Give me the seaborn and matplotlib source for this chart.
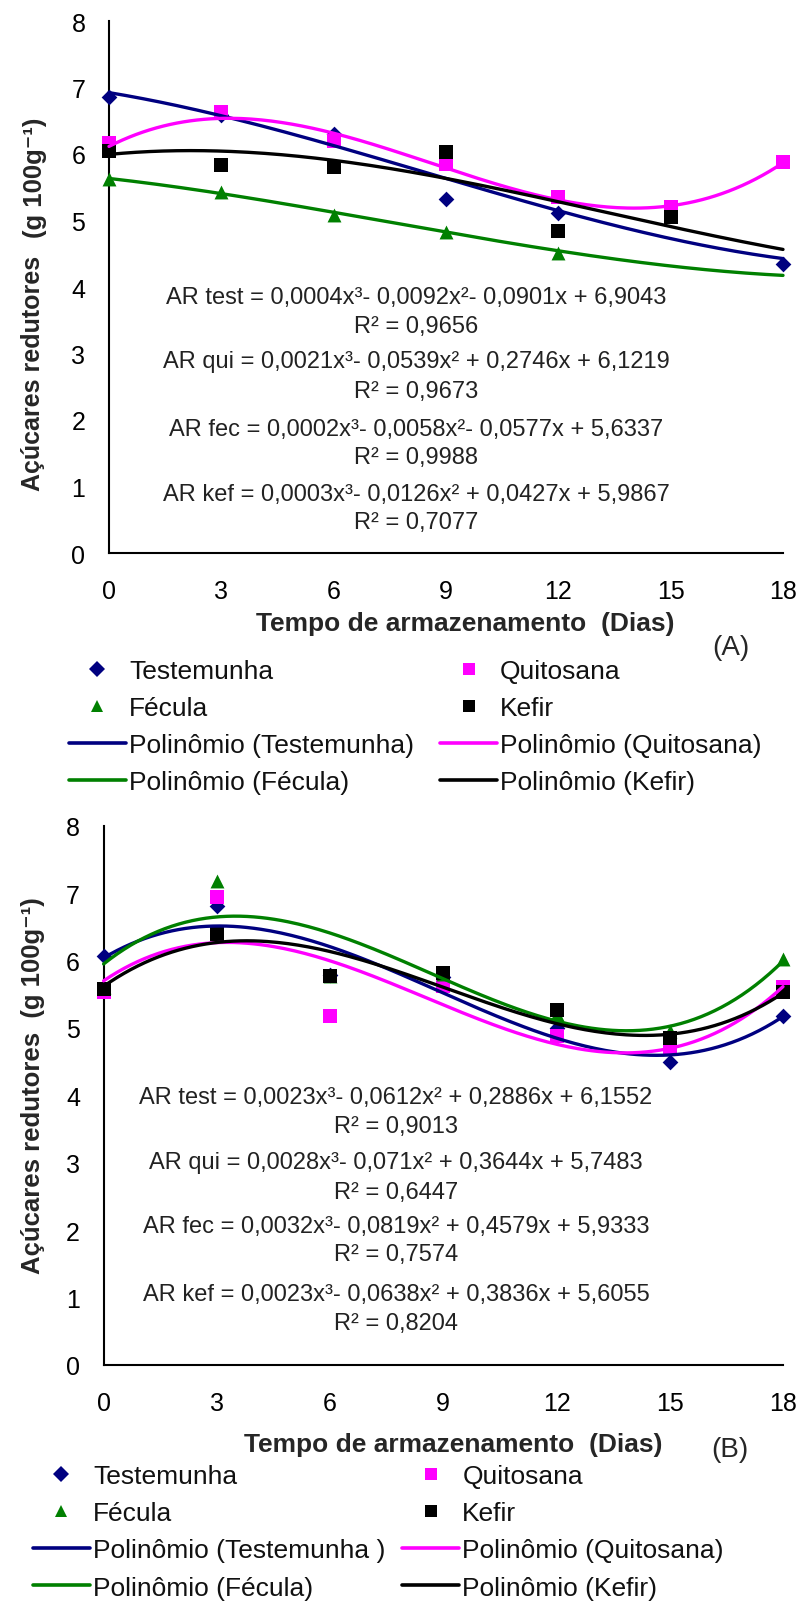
import numpy as np
import matplotlib
matplotlib.use("Agg")
import matplotlib.pyplot as plt
from matplotlib.lines import Line2D
import seaborn as sns

sns.set_theme(style="white")
plt.rcParams['font.family'] = ['Liberation Sans', 'DejaVu Sans']

# ---------------- data ----------------
days = [0, 3, 6, 9, 12, 15, 18]
nan = np.nan

# Panel A – observed points
A_test = [6.85, 6.58, 6.30, 5.32, 5.11, nan, 4.35]
A_qui = [6.17, 6.63, 6.20, 5.85, 5.35, 5.20, 5.88]
A_fec = [5.62, 5.43, 5.09, 4.82, 4.51, nan, nan]
A_kef = [6.04, 5.83, 5.80, 6.03, 4.84, 5.05, nan]
# Panel A – trend line values read at each day
A_test_fit = [6.92, 6.58, 6.13, 5.63, 5.13, 4.75, 4.42]
A_qui_fit = [6.12, 6.53, 6.29, 5.82, 5.32, 5.19, 5.88]
A_fec_fit = [5.63, 5.41, 5.12, 4.83, 4.53, 4.33, 4.17]
A_kef_fit = [6.00, 6.03, 5.90, 5.66, 5.27, 4.90, 4.57]

# Panel B – observed points
B_test = [6.07, 6.81, 5.78, 5.75, 5.00, 4.49, 5.18]
B_qui = [5.53, 6.94, 5.18, 5.62, 4.88, 4.69, 5.60]
B_fec = [5.60, 7.18, 5.77, 5.80, 5.20, 4.96, 6.02]
B_kef = [5.58, 6.40, 5.77, 5.82, 5.26, 4.85, 5.53]
# Panel B – trend line values read at each day
B_test_fit = [6.04, 6.52, 6.17, 5.55, 4.86, 4.57, 5.18]
B_qui_fit = [5.72, 6.24, 5.92, 5.47, 4.76, 4.61, 5.65]
B_fec_fit = [5.95, 6.67, 6.32, 5.82, 5.10, 4.98, 6.01]
B_kef_fit = [5.62, 6.28, 6.07, 5.68, 5.05, 4.88, 5.53]

series_names = ["Testemunha", "Quitosana", "Fécula", "Kefir"]

A_eqs = ["AR test = 0,0004x³- 0,0092x²- 0,0901x + 6,9043",
         "AR qui = 0,0021x³- 0,0539x² + 0,2746x + 6,1219",
         "AR fec = 0,0002x³- 0,0058x²- 0,0577x + 5,6337",
         "AR kef = 0,0003x³- 0,0126x² + 0,0427x + 5,9867"]
A_r2 = ["R² = 0,9656", "R² = 0,9673", "R² = 0,9988", "R² = 0,7077"]
B_eqs = ["AR test = 0,0023x³- 0,0612x² + 0,2886x + 6,1552",
         "AR qui = 0,0028x³- 0,071x² + 0,3644x + 5,7483",
         "AR fec = 0,0032x³- 0,0819x² + 0,4579x + 5,9333",
         "AR kef = 0,0023x³- 0,0638x² + 0,3836x + 5,6055"]
B_r2 = ["R² = 0,9013", "R² = 0,6447", "R² = 0,7574", "R² = 0,8204"]

x_ticks = [0, 3, 6, 9, 12, 15, 18]
y_ticks = [0, 1, 2, 3, 4, 5, 6, 7, 8]

# ---------------- style ----------------
colors = ["#000080", "#FF00FF", "#008000", "#000000"]
markers = ["D", "s", "^", "s"]
msizes = [64, 100, 100, 95]

W, H = 801, 1606
fig = plt.figure(figsize=(W / 100, H / 100), dpi=100)
fig.patch.set_facecolor("white")


def fx(px):
    return px / W


def fy(py):
    return 1 - py / H


def make_axes(left, right, top, bottom):
    return fig.add_axes([fx(left), fy(bottom), fx(right) - fx(left), fy(top) - fy(bottom)])


def draw_panel(ax, pts, fits, eqs, r2s, eq_x, eq_ys):
    grid = np.linspace(0, 18, 200)
    for i in range(4):
        sns.scatterplot(x=days, y=pts[i], marker=markers[i], color=colors[i], s=msizes[i],
                        linewidth=0, ax=ax, zorder=3 + i, clip_on=False, legend=False)
    for i in range(4):
        coef = np.polyfit(days, fits[i], 3)
        sns.lineplot(x=grid, y=np.polyval(coef, grid), color=colors[i], lw=2.4, ax=ax,
                     zorder=8 + i, clip_on=False, legend=False)
    ax.set_xlim(0, 18)
    ax.set_ylim(0, 8)
    ax.set_xticks(x_ticks)
    ax.set_yticks(y_ticks)
    ax.set_xticklabels([str(t) for t in x_ticks])
    ax.set_yticklabels([str(t) for t in y_ticks])
    ax.tick_params(axis="both", direction="out", length=7, width=1.4, labelsize=18,
                   colors="black")
    ax.tick_params(axis="x", pad=12)
    ax.tick_params(axis="y", pad=10)
    sns.despine(ax=ax)
    for sp in ["left", "bottom"]:
        ax.spines[sp].set_linewidth(1.5)
        ax.spines[sp].set_color("black")
    ax.set_xlabel("")
    ax.set_ylabel("")
    for k in range(4):
        ax.text(eq_x, eq_ys[2 * k], eqs[k], ha="center", va="center", fontsize=17,
                color="#222222", zorder=20)
        ax.text(eq_x, eq_ys[2 * k + 1], r2s[k], ha="center", va="center", fontsize=17,
                color="#222222", zorder=20)


def add_legend(ax, left_px, top_px, labels_lines, spacing, colspace):
    h_pts = [Line2D([], [], marker=markers[i], ls="none", color=colors[i],
                    markersize=9 if markers[i] != "D" else 8, markeredgewidth=0)
             for i in range(4)]
    h_lines = [Line2D([], [], color=colors[i], lw=2.6) for i in range(4)]
    handles = [h_pts[0], h_pts[2], h_lines[0], h_lines[2],
               h_pts[1], h_pts[3], h_lines[1], h_lines[3]]
    labels = [series_names[0], series_names[2], labels_lines[0], labels_lines[2],
              series_names[1], series_names[3], labels_lines[1], labels_lines[3]]
    leg = ax.legend(handles, labels, ncol=2, loc="upper left",
                    bbox_to_anchor=(fx(left_px), fy(top_px)), bbox_transform=fig.transFigure,
                    frameon=False, fontsize=19, handlelength=2.15, handletextpad=0.12,
                    columnspacing=colspace, labelspacing=spacing, borderpad=0.0,
                    borderaxespad=0.0)
    for t in leg.get_texts():
        t.set_color("#111111")
    return leg


# ---------------- panel A ----------------
axA = make_axes(109, 783, 22, 554)
draw_panel(axA, [A_test, A_qui, A_fec, A_kef], [A_test_fit, A_qui_fit, A_fec_fit, A_kef_fit],
           A_eqs, A_r2, 8.2, [3.85, 3.41, 2.89, 2.44, 1.86, 1.44, 0.89, 0.47])
fig.text(fx(465), fy(624), "Tempo de armazenamento  (Dias)", ha="center", va="center",
         fontsize=19, fontweight="bold")
fig.text(fx(731), fy(648), "(A)", ha="center", va="center", fontsize=20)
fig.text(fx(33), fy(373), "Açúcares redutores", ha="center", va="center", rotation=90,
         fontsize=18, fontweight="bold")
fig.text(fx(35), fy(178), "(g 100g⁻¹)", ha="center", va="center", rotation=90,
         fontsize=18.5, fontweight="bold", family=['Liberation Sans', 'DejaVu Sans'])
add_legend(axA, 69, 660,
           ["Polinômio (Testemunha)", "Polinômio (Quitosana)",
            "Polinômio (Fécula)", "Polinômio (Kefir)"], 0.49, 1.0)

# ---------------- panel B ----------------
axB = make_axes(103.6, 783, 826.7, 1366)
draw_panel(axB, [B_test, B_qui, B_fec, B_kef], [B_test_fit, B_qui_fit, B_fec_fit, B_kef_fit],
           B_eqs, B_r2, 7.75, [3.97, 3.54, 3.01, 2.56, 2.06, 1.65, 1.05, 0.63])
fig.text(fx(453), fy(1445), "Tempo de armazenamento  (Dias)", ha="center", va="center",
         fontsize=19, fontweight="bold")
fig.text(fx(730), fy(1450), "(B)", ha="center", va="center", fontsize=20)
fig.text(fx(33), fy(1086), "Açúcares redutores  (g 100g⁻¹)", ha="center", va="center",
         rotation=90, fontsize=18.5, fontweight="bold",
         family=['Liberation Sans', 'DejaVu Sans'])
add_legend(axB, 33, 1465,
           ["Polinômio (Testemunha )", "Polinômio (Quitosana)",
            "Polinômio (Fécula)", "Polinômio (Kefir)"], 0.5, 0.65)

fig.savefig("out.png", dpi=100, facecolor="white")
